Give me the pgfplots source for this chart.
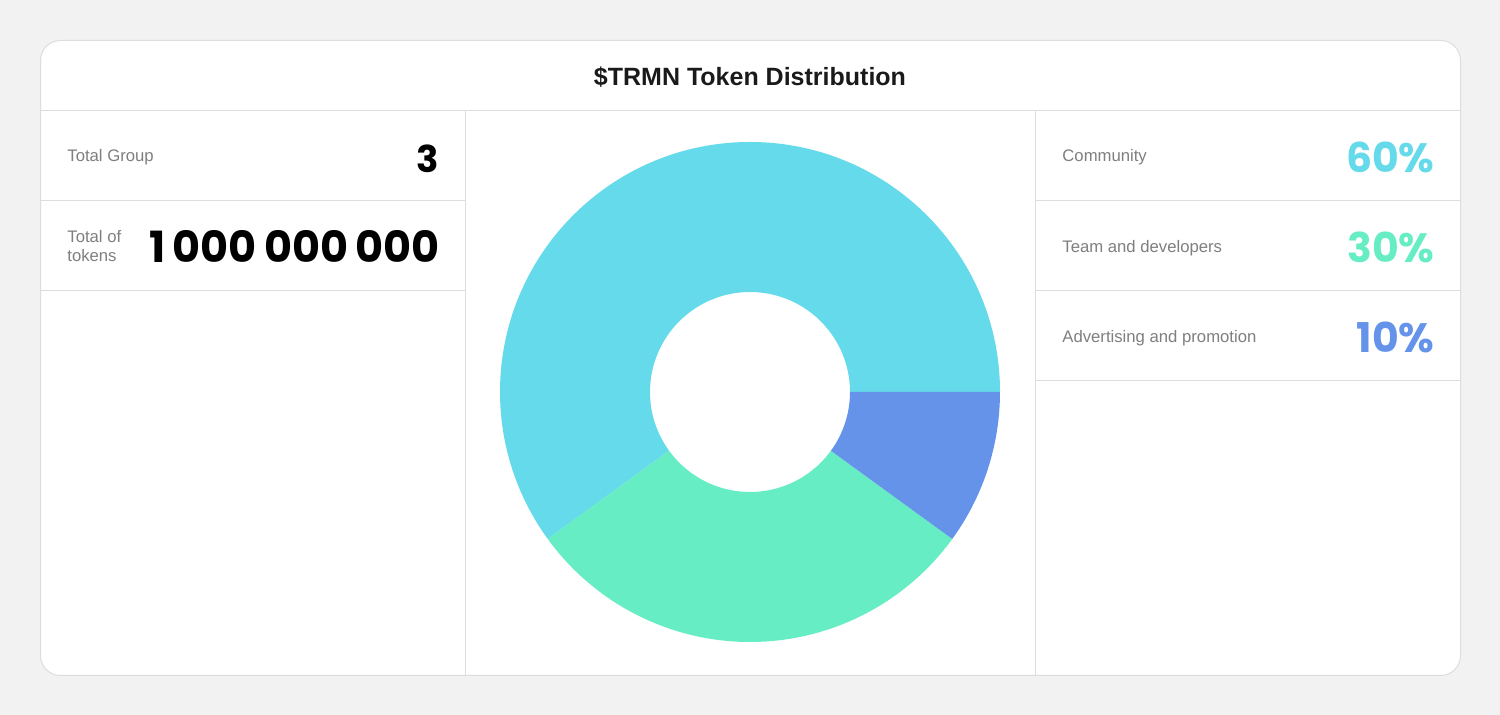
\documentclass[border=0pt]{standalone}
\usepackage{pgfplots}
\pgfplotsset{compat=1.18}
\usepackage{pgfplotstable}
\usepackage{fontspec}
\setmainfont{Liberation Sans}
\newfontfamily\numfont{Poppins}
\definecolor{bgc}{HTML}{F2F2F2}
\definecolor{bord}{HTML}{DDDDDD}
\definecolor{lab}{HTML}{7F7F7F}
\definecolor{ttl}{HTML}{1A1A1A}
\definecolor{cCom}{HTML}{64DAEA}
\definecolor{cTeam}{HTML}{66EDC4}
\definecolor{cAdv}{HTML}{6593EA}
\pgfplotstableread{
label value
Community 60
Team 30
Advertising 10
}\shares
\begin{document}
\begin{tikzpicture}
\pgfplotstablegetelem{0}{value}\of\shares \edef\vA{\pgfplotsretval}
\pgfplotstablegetelem{1}{value}\of\shares \edef\vB{\pgfplotsretval}
\pgfplotstablegetelem{2}{value}\of\shares \edef\vC{\pgfplotsretval}
\pgfmathsetmacro\aA{0}
\pgfmathsetmacro\aB{\aA+3.6*\vA}
\pgfmathsetmacro\aC{\aB+3.6*\vB}
\pgfmathsetmacro\aD{\aC+3.6*\vC}
\begin{scope}[x=0.5pt,y=-0.5pt]
\fill[bgc] (0,0) rectangle (1500,715);
\draw[bord, line width=0.5pt, fill=white, rounded corners=10pt] (40.5,40.5) rectangle (1460.5,675.5);
\draw[bord, line width=0.5pt] (40,111)--(1461,111) (465,111)--(465,676) (1035,111)--(1035,676)
  (40,201)--(465,201) (40,291)--(465,291)
  (1035,201)--(1461,201) (1035,291)--(1461,291) (1035,381)--(1461,381);
\node[anchor=base, text=ttl, font=\fontsize{12.5}{15}\selectfont\bfseries, inner sep=0pt] at (750,86) {\$TRMN Token Distribution};
% left panel
\node[anchor=base west, text=lab, font=\fontsize{8.35}{10}\selectfont, inner sep=0pt] at (67,162) {Total Group};
\node[anchor=base west, text=lab, font=\fontsize{8.35}{10}\selectfont, inner sep=0pt] at (67,243) {Total of};
\node[anchor=base west, text=lab, font=\fontsize{8.35}{10}\selectfont, inner sep=0pt] at (67,262) {tokens};
\node[anchor=base east, text=black, font=\numfont\fontsize{18.5}{20}\selectfont\bfseries, inner sep=0pt] at (439,173) {3};
\node[anchor=base east, text=black, font=\numfont\fontsize{21.5}{24}\selectfont\bfseries, inner sep=0pt] at (440,263) {1\,000\,000\,000};
% right panel
\node[anchor=base west, text=lab, font=\fontsize{8.35}{10}\selectfont, inner sep=0pt] at (1062,162) {Community};
\node[anchor=base west, text=lab, font=\fontsize{8.35}{10}\selectfont, inner sep=0pt] at (1062,253) {Team and developers};
\node[anchor=base west, text=lab, font=\fontsize{8.35}{10}\selectfont, inner sep=0pt] at (1062,343) {Advertising and promotion};
\node[anchor=base east, text=cCom, font=\numfont\fontsize{20.5}{22}\selectfont\bfseries, inner sep=0pt] at (1435,173) {60\%};
\node[anchor=base east, text=cTeam, font=\numfont\fontsize{20.5}{22}\selectfont\bfseries, inner sep=0pt] at (1435,263) {30\%};
\node[anchor=base east, text=cAdv, font=\numfont\fontsize{20.5}{22}\selectfont\bfseries, inner sep=0pt] at (1435,353) {10\%};
\end{scope}
\begin{axis}[
  at={(375pt,-196pt)}, anchor=center,
  width=250pt, height=250pt, scale only axis,
  xmin=-1, xmax=1, ymin=-1, ymax=1,
  hide axis, clip=false]
\fill[cCom] (axis cs:{cos(\aA)},{sin(\aA)}) arc[start angle=\aA, end angle=\aB, radius=125pt]
  -- (axis cs:{0.4*cos(\aB)},{0.4*sin(\aB)}) arc[start angle=\aB, end angle=\aA, radius=50pt] -- cycle;
\fill[cTeam] (axis cs:{cos(\aB)},{sin(\aB)}) arc[start angle=\aB, end angle=\aC, radius=125pt]
  -- (axis cs:{0.4*cos(\aC)},{0.4*sin(\aC)}) arc[start angle=\aC, end angle=\aB, radius=50pt] -- cycle;
\fill[cAdv] (axis cs:{cos(\aC)},{sin(\aC)}) arc[start angle=\aC, end angle=\aD, radius=125pt]
  -- (axis cs:{0.4*cos(\aD)},{0.4*sin(\aD)}) arc[start angle=\aD, end angle=\aC, radius=50pt] -- cycle;
\end{axis}
\end{tikzpicture}
\end{document}
